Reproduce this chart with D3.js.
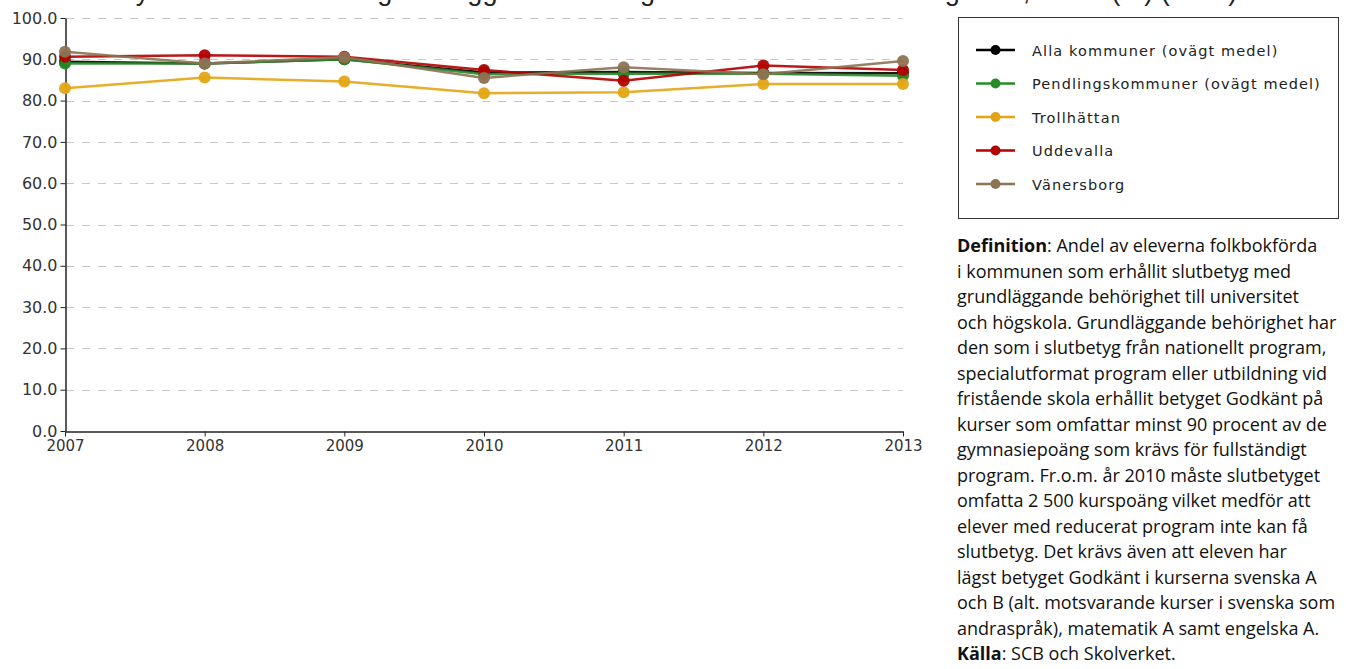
<!DOCTYPE html>
<html><head><meta charset="utf-8">
<script src="https://cdn.jsdelivr.net/npm/d3@7"></script>
<style>
html,body{margin:0;padding:0;background:#fff;overflow:hidden}
</style></head>
<body>
<svg id="c" width="1346" height="669"></svg>
<script>
const years = [2007, 2008, 2009, 2010, 2011, 2012, 2013];
const seriesNames = ["Alla kommuner (ovägt medel)", "Pendlingskommuner (ovägt medel)", "Trollhättan", "Uddevalla", "Vänersborg"];
const seriesColors = ["#000000", "#2a8a2a", "#e3a514", "#b30000", "#8c7354"];
const alla = [89.4, 89.0, 90.0, 86.8, 86.9, 86.7, 86.6];
const pendling = [89.0, 89.0, 90.0, 86.4, 86.5, 86.5, 86.0];
const trollhattan = [83.0, 85.6, 84.6, 81.8, 82.0, 84.0, 84.0];
const uddevalla = [90.6, 91.0, 90.6, 87.4, 84.8, 88.5, 87.4];
const vanersborg = [91.8, 89.0, 90.5, 85.5, 88.1, 86.4, 89.6];
const seriesValues = [alla, pendling, trollhattan, uddevalla, vanersborg];
const yTicks = [0, 10, 20, 30, 40, 50, 60, 70, 80, 90, 100];
const titleText = "Gymnasieelever med grundläggande behörighet till universitet och högskola, andel (%) (totalt)";
const defLines = [
  [["Definition", true], [": Andel av eleverna folkbokförda", false]],
  [["i kommunen som erhållit slutbetyg med", false]],
  [["grundläggande behörighet till universitet", false]],
  [["och högskola. Grundläggande behörighet har", false]],
  [["den som i slutbetyg från nationellt program,", false]],
  [["specialutformat program eller utbildning vid", false]],
  [["fristående skola erhållit betyget Godkänt på", false]],
  [["kurser som omfattar minst 90 procent av de", false]],
  [["gymnasiepoäng som krävs för fullständigt", false]],
  [["program. Fr.o.m. år 2010 måste slutbetyget", false]],
  [["omfatta 2 500 kurspoäng vilket medför att", false]],
  [["elever med reducerat program inte kan få", false]],
  [["slutbetyg. Det krävs även att eleven har", false]],
  [["lägst betyget Godkänt i kurserna svenska A", false]],
  [["och B (alt. motsvarande kurser i svenska som", false]],
  [["andraspråk), matematik A samt engelska A.", false]],
  [["Källa", true], [": SCB och Skolverket.", false]]
];

const svg = d3.select("#c");
const x = d3.scaleLinear().domain([2007, 2013]).range([65, 903]);
const y = d3.scaleLinear().domain([0, 100]).range([431, 18]);

// title (cut at top, as in the original)
svg.append("text").attr("x", 676).attr("y", 0).attr("text-anchor", "middle")
  .style("font-family", "Liberation Sans, Arial, sans-serif").style("font-size", "27px").attr("fill", "#222")
  .text(titleText);

// grid
svg.append("g").selectAll("line").data(yTicks.filter(d => d > 0)).join("line")
  .attr("x1", 66).attr("x2", 903).attr("y1", d => Math.round(y(d)) + 0.5).attr("y2", d => Math.round(y(d)) + 0.5)
  .attr("stroke", "#c8c8c8").attr("stroke-width", 1).attr("stroke-dasharray", "8,8");

const tickFont = "DejaVu Sans, Verdana, sans-serif";
// y axis
const ya = svg.append("g").attr("transform", "translate(65.5,0)")
  .call(d3.axisLeft(y).tickValues(yTicks).tickFormat(d3.format(".1f")).tickSize(5).tickSizeOuter(0));
ya.select(".domain").attr("stroke", "#222").attr("stroke-width", 1.5);
ya.selectAll(".tick line").attr("stroke", "#222");
ya.selectAll(".tick text").style("font-family", tickFont).style("font-size", "16px").attr("fill", "#333").attr("x", -8);

// x axis
const xa = svg.append("g").attr("transform", "translate(0,431.5)")
  .call(d3.axisBottom(x).tickValues(years).tickFormat(d3.format("d")).tickSize(5).tickSizeOuter(0));
xa.select(".domain").attr("stroke", "#222").attr("stroke-width", 1.5);
xa.selectAll(".tick line").attr("stroke", "#222");
xa.selectAll(".tick text").style("font-family", tickFont).style("font-size", "15px").attr("fill", "#333").attr("y", 9);

// series
const line = d3.line().x((d, i) => x(years[i])).y(d => y(d));
seriesValues.forEach((vals, k) => {
  const g = svg.append("g");
  g.append("path").datum(vals).attr("d", line).attr("fill", "none")
    .attr("stroke", seriesColors[k]).attr("stroke-width", 2.5).attr("stroke-opacity", 0.9);
  g.selectAll("circle").data(vals).join("circle")
    .attr("cx", (d, i) => x(years[i])).attr("cy", d => y(d)).attr("r", 6)
    .attr("fill", seriesColors[k]).attr("fill-opacity", 0.95);
});

// legend
svg.append("rect").attr("x", 958.5).attr("y", 17.5).attr("width", 380).attr("height", 201)
  .attr("fill", "#fff").attr("stroke", "#333").attr("stroke-width", 1);
const lg = svg.append("g").selectAll("g").data(seriesNames).join("g")
  .attr("transform", (d, i) => `translate(0,${50 + i * 33.5})`);
lg.append("line").attr("x1", 976).attr("x2", 1015).attr("y1", 0).attr("y2", 0)
  .attr("stroke", (d, i) => seriesColors[i]).attr("stroke-width", 2.5);
lg.append("circle").attr("cx", 995.5).attr("cy", 0).attr("r", 5).attr("fill", (d, i) => seriesColors[i]);
lg.append("text").attr("x", 1032).attr("y", 5.5).text(d => d)
  .style("font-family", tickFont).style("font-size", "14.5px").style("letter-spacing", "1.1px").attr("fill", "#222");

// definition text
const dt = svg.append("text").style("font-family", "Open Sans, Noto Sans, sans-serif").style("font-size", "18px").attr("fill", "#111");
defLines.forEach((parts, i) => {
  parts.forEach((p, j) => {
    const t = dt.append("tspan").text(p[0]).style("font-weight", p[1] ? "700" : "400");
    if (j === 0) t.attr("x", 957).attr("y", 252 + i * 25.5);
  });
});
</script>
</body></html>
